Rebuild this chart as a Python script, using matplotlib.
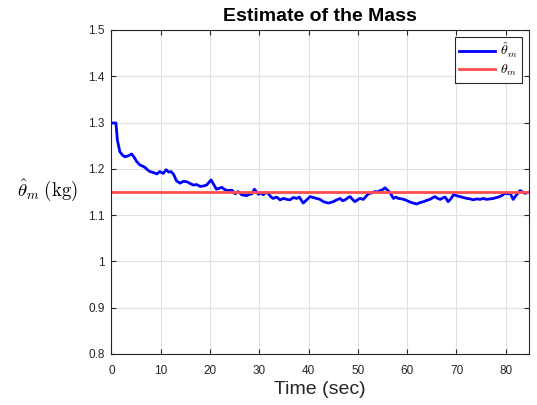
import matplotlib.pyplot as plt
import numpy as np

plt.rcParams['font.family'] = ['Liberation Sans', 'DejaVu Sans']
plt.rcParams['mathtext.fontset'] = 'cm'

# estimated mass over time
t = [0, 0.9, 1.2, 1.7, 2.2, 2.7, 3.4, 4.1, 4.6, 5.1, 5.8, 6.3, 6.8, 7.3, 7.8, 8.5, 9.2,
     9.8, 10.5, 11.1, 11.6, 12.1, 12.6, 13.2, 13.9, 14.6, 15.3, 16.0, 16.6, 17.3, 18.0,
     18.7, 19.3, 20.2, 20.8, 21.3, 21.9, 22.4, 23.0, 23.7, 24.4, 25.1, 25.7, 26.4, 27.4,
     28.0, 28.5, 29.0, 29.8, 30.3, 30.8, 31.3, 31.8, 32.3, 32.8, 33.5, 34.2, 34.9, 35.6,
     36.2, 36.9, 37.6, 38.1, 38.9, 39.6, 40.3, 41.0, 41.6, 42.3, 43.0, 44.0, 45.0, 45.7,
     46.4, 46.9, 47.4, 47.9, 48.4, 48.9, 49.4, 49.9, 50.4, 51.1, 51.6, 52.1, 52.8, 53.5,
     54.0, 54.5, 55.0, 55.5, 56.0, 56.5, 57.2, 57.7, 58.2, 58.9, 59.6, 60.2, 60.9, 61.9,
     62.6, 63.3, 64.0, 64.6, 65.1, 65.6, 66.2, 66.7, 67.2, 67.7, 68.3, 68.9, 69.4, 70.0,
     70.7, 71.4, 72.1, 72.8, 73.4, 74.1, 74.8, 75.4, 76.1, 76.8, 77.5, 78.1, 78.8, 79.3,
     79.8, 80.4, 80.9, 81.5, 82.2, 82.9, 83.4, 83.9, 84.6]
theta_hat = [1.299, 1.299, 1.262, 1.237, 1.230, 1.226, 1.228, 1.232, 1.225, 1.216, 1.208,
             1.206, 1.203, 1.198, 1.194, 1.192, 1.189, 1.194, 1.190, 1.198, 1.193, 1.194,
             1.188, 1.174, 1.169, 1.173, 1.172, 1.168, 1.165, 1.166, 1.162, 1.163, 1.165,
             1.176, 1.165, 1.156, 1.158, 1.160, 1.155, 1.153, 1.154, 1.146, 1.151, 1.144,
             1.142, 1.145, 1.146, 1.156, 1.145, 1.148, 1.144, 1.149, 1.147, 1.140, 1.136,
             1.139, 1.133, 1.136, 1.134, 1.133, 1.138, 1.136, 1.139, 1.126, 1.133, 1.140,
             1.138, 1.136, 1.134, 1.129, 1.126, 1.129, 1.133, 1.136, 1.131, 1.133, 1.137,
             1.140, 1.134, 1.129, 1.133, 1.136, 1.134, 1.140, 1.146, 1.148, 1.151, 1.150,
             1.153, 1.155, 1.159, 1.154, 1.149, 1.136, 1.139, 1.136, 1.135, 1.133, 1.130,
             1.127, 1.124, 1.127, 1.129, 1.132, 1.134, 1.137, 1.140, 1.136, 1.134, 1.137,
             1.139, 1.129, 1.136, 1.144, 1.142, 1.140, 1.138, 1.136, 1.135, 1.133, 1.135,
             1.134, 1.136, 1.134, 1.135, 1.136, 1.138, 1.140, 1.143, 1.147, 1.146, 1.147,
             1.134, 1.144, 1.153, 1.150, 1.147, 1.149]
theta_true = 1.15

fig = plt.figure(figsize=(5.37, 4.05), dpi=100)
ax = fig.add_axes([0.2076, 0.126, 0.7774, 0.8])

ax.plot(t, theta_hat, color='#0000ff', lw=2, label=r'$\hat{\theta}_m$')
ax.axhline(theta_true, color='#ff4d4d', lw=2, label=r'$\theta_m$')

ax.set_xlim(0, 84.7)
ax.set_ylim(0.8, 1.5)
ax.set_xticks(np.arange(0, 81, 10))
ax.set_yticks(np.arange(0.8, 1.51, 0.1))
ax.set_yticklabels(['0.8', '0.9', '1', '1.1', '1.2', '1.3', '1.4', '1.5'])
ax.grid(True, color='#e0e0e0', lw=0.8)
ax.set_axisbelow(True)
ax.tick_params(direction='in', top=True, right=True, labelsize=8.5, colors='#262626',
               length=3.5, width=0.8)
ax.tick_params(axis='x', pad=8)
ax.tick_params(axis='y', pad=5)
for s in ax.spines.values():
    s.set_color('#262626')
    s.set_linewidth(0.8)

ax.set_title('Estimate of the Mass', fontsize=14, fontweight='bold', pad=6.5)
ax.set_xlabel('Time (sec)', fontsize=14, color='#262626', labelpad=3)
ax.set_ylabel(r'$\hat{\theta}_m\;\mathrm{(kg)}$', fontsize=13.5, rotation=0,
              va='center', ha='center')
ax.yaxis.set_label_coords(-0.154, 0.506)

leg = ax.legend(loc='upper right', fontsize=10, fancybox=False, framealpha=1,
                edgecolor='#262626', handlelength=2.6, borderpad=0.3,
                labelspacing=0.2, handletextpad=0.4, borderaxespad=0.5)
leg.get_frame().set_linewidth(0.8)

fig.savefig('out.png', dpi=100)
